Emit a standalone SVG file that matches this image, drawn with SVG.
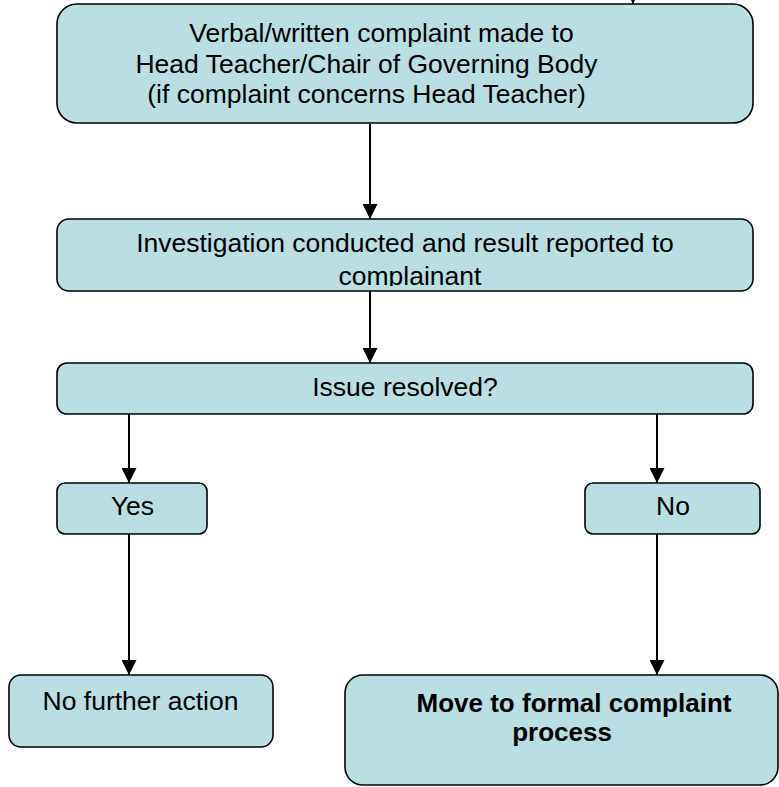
<svg xmlns="http://www.w3.org/2000/svg" width="779" height="787" viewBox="0 0 779 787">
<style>
.box{fill:#B9DFE3;stroke:#000;stroke-width:1.6}
.t{font-family:"Liberation Sans",Arial,sans-serif;font-size:26.5px;fill:#000}
.b{font-weight:bold;font-size:26px}
.c{stroke:#000;stroke-width:2;fill:none;marker-end:url(#ah)}
</style>
<defs>
<marker id="ah" markerUnits="userSpaceOnUse" markerWidth="15" markerHeight="15" viewBox="0 0 15 15" refX="15" refY="7.5" orient="auto">
<path d="M0,0 L15,7.5 L0,15 z" fill="#000"/>
</marker>
<clipPath id="clip2"><rect x="57" y="219" width="696" height="67"/></clipPath>
</defs>
<rect width="779" height="787" fill="#fff"/>
<g id="connectors">
<line class="c" x1="633" y1="-30" x2="633" y2="4"/>
<line class="c" x1="370" y1="124" x2="370" y2="219"/>
<line class="c" x1="370" y1="291" x2="370" y2="363"/>
<line class="c" x1="129" y1="414" x2="129" y2="483"/>
<line class="c" x1="657" y1="414" x2="657" y2="483"/>
<line class="c" x1="129" y1="534" x2="129" y2="675"/>
<line class="c" x1="657" y1="534" x2="657" y2="675"/>
</g>
<g id="n1">
<rect class="box" x="57" y="4" width="696" height="119" rx="20"/>
<text class="t" x="381.5" y="42" text-anchor="middle">Verbal/written complaint made to</text>
<text class="t" x="366.5" y="73" text-anchor="middle">Head Teacher/Chair of Governing Body</text>
<text class="t" x="366.5" y="103" text-anchor="middle">(if complaint concerns Head Teacher)</text>
</g>
<g id="n2">
<rect class="box" x="57" y="219" width="696" height="72" rx="12"/>
<g clip-path="url(#clip2)">
<text class="t" x="405" y="252" text-anchor="middle">Investigation conducted and result reported to</text>
<text class="t" x="410" y="284.5" text-anchor="middle">complainant</text>
</g>
</g>
<g id="n3">
<rect class="box" x="57" y="363" width="696" height="51" rx="10"/>
<text class="t" x="405" y="396" text-anchor="middle">Issue resolved?</text>
</g>
<g id="n4">
<rect class="box" x="57" y="483" width="150" height="51" rx="8"/>
<text class="t" x="132.5" y="515" text-anchor="middle">Yes</text>
</g>
<g id="n5">
<rect class="box" x="585" y="483" width="175" height="51" rx="8"/>
<text class="t" x="673" y="515" text-anchor="middle">No</text>
</g>
<g id="n6">
<rect class="box" x="9" y="675" width="264" height="72" rx="12"/>
<text class="t" x="140.5" y="710" text-anchor="middle">No further action</text>
</g>
<g id="n7">
<rect class="box" x="345" y="675" width="433" height="110" rx="18"/>
<text class="t b" x="574" y="712" text-anchor="middle">Move to formal complaint</text>
<text class="t b" x="562" y="741" text-anchor="middle">process</text>
</g>
</svg>
